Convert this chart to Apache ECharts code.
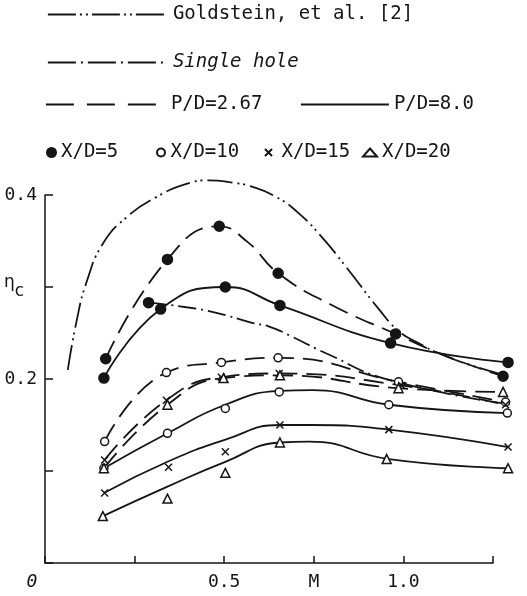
<!DOCTYPE html>
<html><head><meta charset="utf-8">
<script src="https://cdn.jsdelivr.net/npm/echarts@6/dist/echarts.min.js"></script>
<style>html,body{margin:0;background:#fff}#c{width:527px;height:596px}</style>
</head><body><div id="c"></div><script>
// Film-cooling effectiveness eta_c versus blowing parameter M
const INK = '#151515';
const MONO = 'DejaVu Sans Mono';

// Reference curves [M, eta_c]
const goldstein = [[0.064,0.210],[0.089,0.264],[0.117,0.306],[0.162,0.347],[0.229,0.376],[0.313,0.398],[0.396,0.412],[0.460,0.416],[0.516,0.414],[0.580,0.409],[0.647,0.398],[0.711,0.380],[0.776,0.354],[0.843,0.322],[0.935,0.276],[0.991,0.252],[1.046,0.239],[1.102,0.228],[1.177,0.217],[1.289,0.204]];
const singleHole = [[0.290,0.283],[0.396,0.278],[0.480,0.272],[0.580,0.261],[0.628,0.257],[0.692,0.246],[0.787,0.228],[0.963,0.199],[1.310,0.172]];
const singleHoleMark = [[0.290,0.283]];

// P/D = 2.67 (dashed) fairings
const dash5  = [[0.170,0.222],[0.343,0.330],[0.488,0.366],[0.567,0.349],[0.653,0.315],[0.800,0.281],[0.982,0.249],[1.130,0.224],[1.283,0.203]];
const dash10 = [[0.167,0.132],[0.340,0.207],[0.494,0.218],[0.653,0.223],[0.990,0.197],[1.290,0.175]];
const dash15 = [[0.167,0.112],[0.340,0.177],[0.494,0.202],[0.656,0.206],[0.999,0.193],[1.290,0.172]];
const dash20 = [[0.165,0.103],[0.343,0.172],[0.500,0.201],[0.658,0.204],[0.990,0.190],[1.283,0.186]];

// P/D = 8.0 (solid) fairings
const solid5  = [[0.165,0.201],[0.324,0.276],[0.505,0.300],[0.658,0.280],[0.968,0.239],[1.297,0.218]];
const solid10 = [[0.165,0.103],[0.343,0.141],[0.505,0.172],[0.656,0.187],[0.750,0.188],[0.963,0.172],[1.295,0.163]];
const solid15 = [[0.165,0.076],[0.343,0.110],[0.505,0.134],[0.658,0.150],[0.745,0.150],[0.963,0.145],[1.297,0.126]];
const solid20 = [[0.162,0.051],[0.343,0.083],[0.505,0.110],[0.658,0.131],[0.740,0.132],[0.963,0.113],[1.297,0.103]];

// Measured points
const pts5_267  = [[0.170,0.222],[0.343,0.330],[0.488,0.366],[0.653,0.315],[0.982,0.249],[1.283,0.203]];
const pts5_8    = [[0.165,0.201],[0.324,0.276],[0.505,0.300],[0.658,0.280],[0.968,0.239],[1.297,0.218]];
const pts10_267 = [[0.167,0.132],[0.340,0.207],[0.494,0.218],[0.653,0.223],[0.990,0.197],[1.290,0.175]];
const pts10_8   = [[0.165,0.103],[0.343,0.141],[0.505,0.168],[0.656,0.186],[0.963,0.172],[1.295,0.163]];
const pts15_267 = [[0.167,0.112],[0.340,0.177],[0.494,0.202],[0.656,0.206],[0.999,0.193],[1.290,0.172]];
const pts15_8   = [[0.167,0.076],[0.346,0.104],[0.505,0.121],[0.658,0.150],[0.963,0.145],[1.297,0.126]];
const pts20_267 = [[0.165,0.103],[0.343,0.172],[0.500,0.201],[0.658,0.204],[0.990,0.190],[1.283,0.186]];
const pts20_8   = [[0.162,0.051],[0.343,0.070],[0.505,0.098],[0.658,0.131],[0.957,0.113],[1.297,0.103]];

// Axis ticks and their labels
const xTicks = {0:'{o|0}', 0.5:'0.5', 0.75:'M', 1:'1.0'};
const yTicks = {0.2:'0.2', 0.3:'{e|η}{s|c}', 0.4:'0.4'};

// Axis frame: drawn M range, and a wider plotting range so that the
// last column of points (beyond the end of the drawn axis) stays visible.
const X_AXIS_MAX = 1.25, X_PLOT_MAX = 1.35, Y_MAX = 0.4;
const PLOT_LEFT = 45, PLOT_TOP = 195, AXIS_W = 448, PLOT_H = 368;

const DASH = [20, 9];
const DASH_DOT = [18, 5, 2, 5];
const DASH_DOT_DOT = [25, 5, 2, 4, 2, 5];
const CROSS = 'path://M0,0L10,10M10,0L0,10';

function curve(name, data, type) {
  return {type:'line', name, data, smooth:0.5, symbol:'none', xAxisIndex:1, yAxisIndex:1,
    clip:false, z:2, itemStyle:{color:INK}, lineStyle:{color:INK, width:1.8, type}};
}
function marks(name, data, symbol, size, fill) {
  return {type:'scatter', name, data, symbol, symbolSize:size, xAxisIndex:1, yAxisIndex:1,
    clip:false, z:4, itemStyle:{color:fill, borderColor:INK, borderWidth:1.5, opacity:1}};
}
function lookup(table, v) {
  for (const k in table) if (Math.abs(+k - v) < 1e-6) return table[k];
  return '';
}

const legendText = {fontFamily:MONO, fontSize:19, color:INK};
function leg(name, left, top, w, h, extra) {
  return Object.assign({data:[name], left, top, itemWidth:w, itemHeight:h, selectedMode:false,
    padding:0, textStyle:Object.assign({}, legendText)}, extra || {});
}
// line-only key: hide the point glyph, draw the stroke with a longer key pattern
function lineKey(type, extra) {
  return Object.assign({itemStyle:{opacity:0}, lineStyle:{color:INK, width:1.8, type}}, extra || {});
}

const chart = echarts.init(document.getElementById('c'));
chart.setOption({
  animation:false,
  backgroundColor:'#fff',
  grid:[
    {left:PLOT_LEFT, top:PLOT_TOP, width:AXIS_W, height:PLOT_H},
    {left:PLOT_LEFT, top:PLOT_TOP, width:AXIS_W * X_PLOT_MAX / X_AXIS_MAX, height:PLOT_H}
  ],
  legend:[
    leg('Goldstein, et al. [2]', 47, 5, 120, 12, lineKey([28, 4, 2, 4, 2, 4])),
    leg('Single hole', 47, 53, 120, 12, lineKey([28, 5, 2, 5],
      {textStyle:Object.assign({}, legendText, {fontStyle:'italic'})})),
    leg('P/D=2.67', 45, 95, 120, 12, lineKey([28, 13])),
    leg('P/D=8.0', 300, 95, 88, 12, lineKey('solid')),
    leg('X/D=5', 46, 143, 9, 9),
    leg('X/D=10', 156, 143, 9, 8),
    leg('X/D=15', 264, 143, 16, 7),
    leg('X/D=20', 362, 143, 14, 8)
  ],
  xAxis:[
    {type:'value', gridIndex:0, min:0, max:X_AXIS_MAX, interval:0.25,
      axisLine:{lineStyle:{color:INK, width:1.5}},
      axisTick:{inside:true, length:7, lineStyle:{color:INK, width:1.5}},
      splitLine:{show:false},
      axisLabel:{margin:10, fontFamily:MONO, fontSize:18, color:INK,
        formatter:v => lookup(xTicks, v),
        rich:{o:{fontFamily:MONO, fontSize:18, color:INK, fontStyle:'italic', padding:[0,26,0,0]}}}},
    {type:'value', gridIndex:1, min:0, max:X_PLOT_MAX, show:false}
  ],
  yAxis:[
    {type:'value', gridIndex:0, min:0, max:Y_MAX, interval:0.1,
      axisLine:{lineStyle:{color:INK, width:1.5}},
      axisTick:{inside:true, length:8, lineStyle:{color:INK, width:1.5}},
      splitLine:{show:false},
      axisLabel:{margin:8, fontFamily:MONO, fontSize:18, color:INK,
        formatter:v => lookup(yTicks, v),
        rich:{
          e:{fontFamily:'DejaVu Sans', fontSize:17, color:INK, verticalAlign:'top', lineHeight:26},
          s:{fontFamily:'DejaVu Sans', fontSize:17, color:INK, verticalAlign:'bottom', lineHeight:26, padding:[0,13,0,0]}
        }}},
    {type:'value', gridIndex:1, min:0, max:Y_MAX, show:false}
  ],
  series:[
    curve('Goldstein, et al. [2]', goldstein, DASH_DOT_DOT),
    curve('Single hole', singleHole, DASH_DOT),
    curve('P/D=2.67', dash5, DASH),
    curve('P/D=2.67', dash10, DASH),
    curve('P/D=2.67', dash15, DASH),
    curve('P/D=2.67', dash20, DASH),
    curve('P/D=8.0', solid5, 'solid'),
    curve('P/D=8.0', solid10, 'solid'),
    curve('P/D=8.0', solid15, 'solid'),
    curve('P/D=8.0', solid20, 'solid'),
    marks('X/D=5', pts5_267.concat(pts5_8, singleHoleMark), 'circle', 10, INK),
    marks('X/D=10', pts10_267.concat(pts10_8), 'circle', 8, '#fff'),
    marks('X/D=15', pts15_267.concat(pts15_8), CROSS, 7, INK),
    marks('X/D=20', pts20_267.concat(pts20_8), 'triangle', 9, '#fff')
  ]
});
</script></body></html>
